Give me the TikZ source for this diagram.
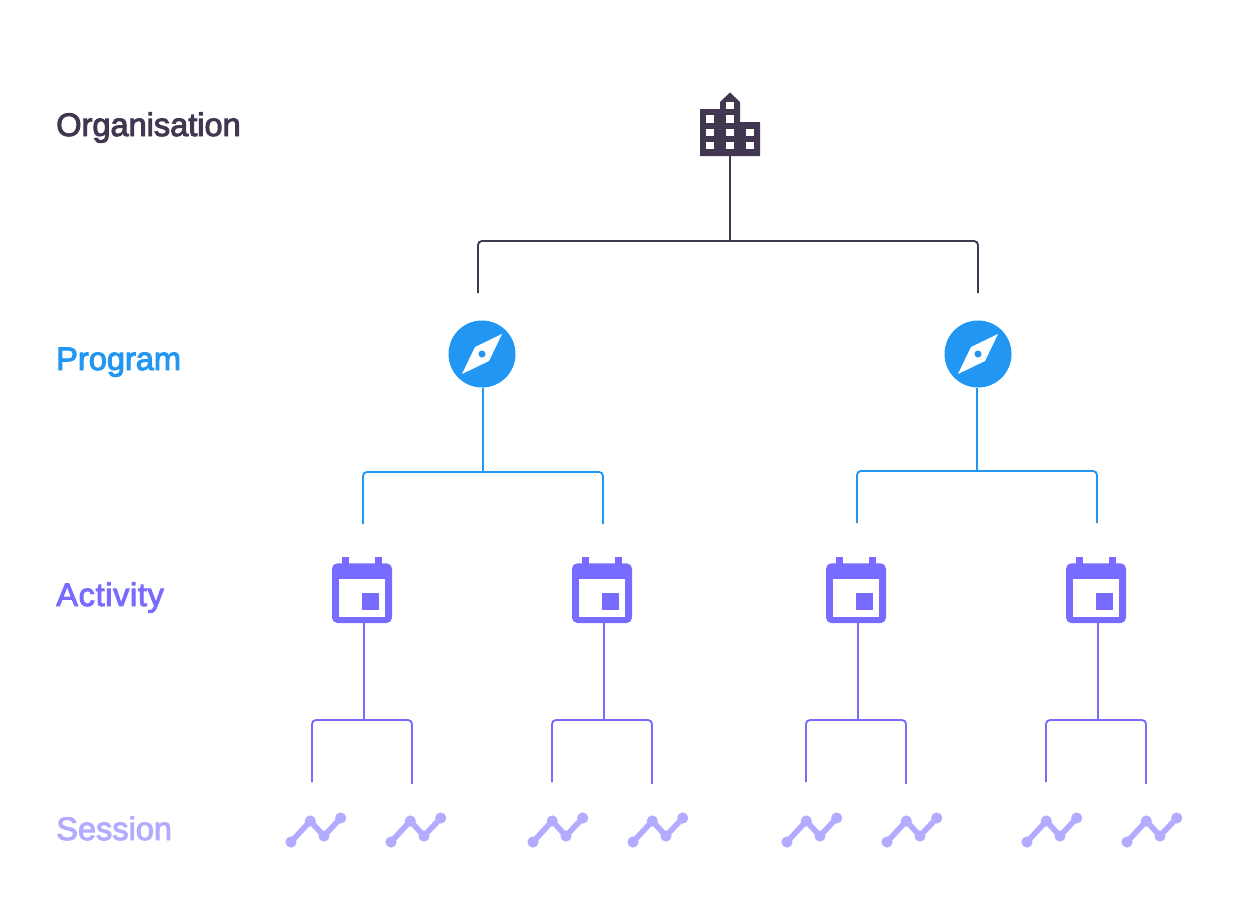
\documentclass[tikz,border=0pt]{standalone}
\usepackage{fontspec}
\setmainfont{Liberation Sans}[FakeBold=3]
\usetikzlibrary{positioning}
\definecolor{orgcol}{HTML}{423750}
\definecolor{progcol}{HTML}{2196F3}
\definecolor{actcol}{HTML}{786BFF}
\definecolor{sescol}{HTML}{B3ABFF}
\tikzset{
	level/.style={anchor=base west, inner sep=0pt, font=\fontsize{24.4pt}{28pt}\selectfont},
	iconbox/.style={inner sep=0pt, outer sep=0pt},
	link/.style={line width=1.4pt, rounded corners=3pt},
	building/.pic={
		\fill[orgcol] (-30,-15.5) -- (-10,-15.5) -- (-10,-22.5) -- (0,-32) -- (10,-22.5) -- (10,-2.5) -- (30,-2.5) -- (30,31.5) -- (-30,31.5) -- cycle;
		\foreach \x/\y in {0/-19, -20/-5.7, 0/-5.7, -20/8, 0/8, 20/8, -20/21.2, 0/21.2, 20/21.2}
			\fill[white] (\x-3.7,\y-3.7) rectangle (\x+3.7,\y+3.7);
	},
	compass/.pic={
		\fill[progcol] (0,0) circle (33.5);
		\fill[white] (20,-20) -- (7,7) -- (-20,20) -- (-7,-7) -- cycle;
		\fill[progcol] (0,0) circle (3.5);
	},
	calendar/.pic={
		\fill[actcol] (-20,-33.5) rectangle (-13.3,-20);
		\fill[actcol] (13.3,-33.5) rectangle (20,-20);
		\fill[actcol, rounded corners=4pt] (-30,-26.7) rectangle (30,33);
		\fill[white] (-23.3,-10.7) rectangle (23.3,26.7);
		\fill[actcol] (0,3.3) rectangle (16.7,20);
	},
	trend/.pic={
		\draw[sescol, line width=4.2pt] (-25,12) -- (-5.7,-9) -- (8,6) -- (24.7,-12);
		\foreach \x/\y in {-25/12, -5.7/-9, 8/6, 24.7/-12}
			\fill[sescol] (\x,\y) circle (5.6);
	}
}
\begin{document}
\begin{tikzpicture}[x=0.75pt, y=-0.75pt]
	\useasboundingbox (0,0) rectangle (1256,906);
	% Level names
	\node[level, text=orgcol] (orglabel) at (56,136) {Organisation};
	\node[level, text=progcol] (proglabel) at (56,370) {Program};
	\node[level, text=actcol] (actlabel) at (56,606) {\addfontfeature{LetterSpace=2}Activity};
	\node[level, text=sescol] (seslabel) at (56,840) {Session};

	% Icons
	\node[iconbox, minimum width=45pt, minimum height=47.25pt] (org) at (730,124.5) {};
	\pic at (org) {building};
	\foreach \name/\x in {prog1/482, prog2/978} {
		\node[iconbox, circle, minimum size=50.25pt] (\name) at (\x,354) {};
		\pic at (\name) {compass};
	}
	\foreach \name/\x in {act1/362, act2/602, act3/856, act4/1096} {
		\node[iconbox, minimum width=45pt, minimum height=45pt] (\name) at (\x,593) {};
		\pic at (\x,590) {calendar};
	}
	\foreach \name/\x in {ses1/316, ses2/416, ses3/558, ses4/658, ses5/812, ses6/912, ses7/1052, ses8/1152} {
		\node[iconbox, minimum width=45pt, minimum height=27pt] (\name) at (\x,830) {};
		\pic at (\name) {trend};
	}

	% Edges from the organisation
	\coordinate (orgjoin) at (730,241);
	\coordinate (orgleft) at (478,293);
	\coordinate (orgright) at (978,293);
	\draw[link, orgcol] (org.south) -- (orgjoin);
	\draw[link, orgcol] (orgleft) |- (orgjoin) -| (orgright);

	% Edges from the programs
	\foreach \name/\x/\y/\l/\r in {prog1/483/472/363/603, prog2/977/471/857/1097} {
		\coordinate (\name join) at (\x,\y);
		\coordinate (\name left) at (\l,\y+52);
		\coordinate (\name right) at (\r,\y+52);
		\draw[link, progcol] (\name join |- \name.south) -- (\name join);
		\draw[link, progcol] (\name left) |- (\name join) -| (\name right);
	}

	% Edges from the activities
	\foreach \name/\x in {act1/364, act2/604, act3/858, act4/1098} {
		\coordinate (\name join) at (\x,720);
		\coordinate (\name left) at (\x-52,782);
		\coordinate (\name right) at (\x+48,784);
		\draw[link, actcol] (\name join |- \name.south) -- (\name join);
		\draw[link, actcol] (\name left) |- (\name join) -| (\name right);
	}
\end{tikzpicture}
\end{document}
